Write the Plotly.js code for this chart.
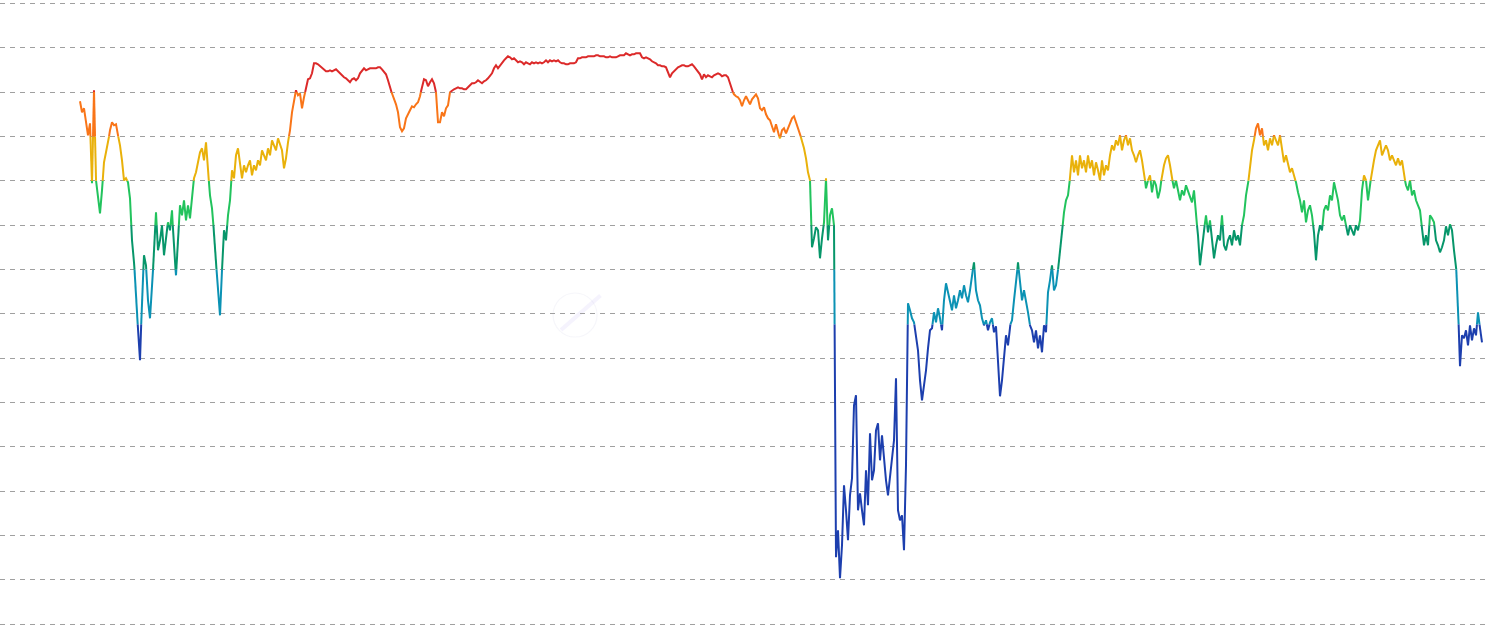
<!DOCTYPE html>
<html>
<head>
<meta charset="utf-8">
<script src="https://cdn.plot.ly/plotly-3.0.1.min.js"></script>
<style>
  html, body { margin: 0; padding: 0; background: #ffffff; }
  #chart { width: 1490px; height: 633px; }
</style>
</head>
<body>
<div id="chart"></div>
<script>
// ---- data (index level; one sample every 2 periods) ----
const levelA = [523,512,516,504,489,501,441,534,444,424,411,434,462,472,481,494,502,499,500,489,479,464,444,446,442,426,384,362,334,294,264];
const levelB = [324,369,359,324,306,334,374,412,374,384,399,369,389,402,394,414,374,349,384,419,409,424,404,419,406,429,446,452,464,472,476,464,482,454,429,416,392,362,334,309,354,394,384,409,424,454,446,469,476,459,446,459,452,459,464,449,459,454,464,459,474,469,464,476,469,484,479,474,486,479,474,456,466,482,494,512,524,534,529,531];
const levelC = [516,527,536,545,546,551,561,561,560,558,557,555,553,553,554,553,554,555,553,551,548,547,546,544,542,545,546,544,546,551,554,556,554,555,556,556,556,556,557,557,555,553,550,544,536,531,526,520,512,497,493,496,506,511,514,518,517,520,522,528,538,545,544,538,542,545,541,532,502,502,512,508,516,519,532,534,535,536,537,536,536,535,535,537,539,541,541,542,544,542,541,543,544,546,549,551,556,559,556,559];
const levelD = [562,564,566,568,567,565,566,564,562,563,562,560,562,561,560,562,561,562,561,562,561,562,564,562,564,563,564,563,564,562];
const levelE = [561,561,560,560,561,561,561,562,566,566,567,567,567,568,568,568,568,569,569,568,568,568,567,567,568,567,567,567,568,569,569,569,571,570,569,570,570,571,571,571,567,566,567,566,565,563,562,561,559,559,558,558,557,551,547,551,553,556,557,558,559,559,558,558,559,560,558,555,553,550,545,550,547,549,548,547,549,550,551,550,548,549,549,547,540,534,530,528,527,524];
const levelF = [518,524,528,524,520,525,528,530,526,516,514,517,510,506,504,499,492,500,491,486,494,496,491,496,502,506,508,502,496,490,484,476,466,452,444,377,386,397,394,366,386,402,446,384,409,416,399];
const levelG = [67,94,46,79,139,114,84,129,146,219,229,114,131,114,99,154,119,191,144,154,194,201,164,189,164,144,129,149,169,184,246,114,104,109,74,159,321];
const levelH = [314,306,302,289,274,244,224,239,254,276,294,296,312,302,316,306,294,324,341,332,324,314,329,316,324,334,326,339,329,322,334,349,362,334,324,319,306,299,304,294,302,306,292,298,262,228,244,266,289,279,299,304,324,339,362,342,324,334,324,312,299,294,282,294,276,289,272,299,292,332,344,359,334,339,354,374];
const levelI = [392,412,424,429,446,469,452,464,449,469,456,464,452,469,456,464,449,462,454,444,464,449,459,454,469,479,474,484,479,489,474,484,489,479,486,474,469,462,469,474,464,452,436,444,449,432,444,439,426,434,449,459,466,469,459,446,436,444,432,424,434,429,439,434,428,422,434,409,389,359];
const levelJ = [379,394,409,392,404,384,366,379,389,384,409,379,374,384,389,379,394,384,389,379,399,409,429,439,459,474,484,496,501,489,496,479,484,474,486,479,489,484,479,489,474,462,469,459,452,456,448,442,432,424,412,424,402,414,419,409,392,364,389,399,394,414,419,414,429,424,442,434,424,409,404,409,399,389,399,394,389,399,394,404,434,449,444,424,439,454,464,474,479,484,469,474,479,474,464,469,464,459,466,459,464,449,439,434,444,429,434,424,419];
const levelK = [414,396,379,389,379,409,406,402,384,379,372,377,384,398,389,400,394,374,360,319,258,289,286,294,279,299,284,296,289,312,296,282];

// band limits (index level) and band colours, lowest band first
const bandLimits = [300, 354.9, 399.2, 443.6, 487.9, 532.3];
const bandColors = ['#1d3fae', '#0b92b4', '#07966a', '#22c35d', '#e9b10a', '#f97518', '#dc2a2a'];

// ---- build ----
const values = [].concat(levelA, levelB, levelC, levelD, levelE, levelF, levelG, levelH, levelI, levelJ, levelK);
const period = values.map((_, i) => i);

function bandOf(v) {
  let b = 0;
  for (const t of bandLimits) if (v > t) b++;
  return b;
}

const bands = bandColors.map(() => ({ x: [], y: [] }));
function pushSeg(b, xa, ya, xb, yb) {
  const tr = bands[b];
  const n = tr.x.length;
  if (n > 0 && tr.x[n - 1] === xa && tr.y[n - 1] === ya) {
    tr.x.push(xb); tr.y.push(yb);
  } else {
    if (n > 0) { tr.x.push(null); tr.y.push(null); }
    tr.x.push(xa, xb); tr.y.push(ya, yb);
  }
}

for (let i = 0; i < values.length - 1; i++) {
  const x0 = period[i], y0 = values[i], x1 = period[i + 1], y1 = values[i + 1];
  const ts = [0];
  for (const t of bandLimits) {
    if ((y0 - t) * (y1 - t) < 0) ts.push((t - y0) / (y1 - y0));
  }
  ts.push(1);
  ts.sort((a, b) => a - b);
  for (let k = 0; k < ts.length - 1; k++) {
    const ta = ts[k], tb = ts[k + 1];
    const xa = x0 + (x1 - x0) * ta, ya = y0 + (y1 - y0) * ta;
    const xb = x0 + (x1 - x0) * tb, yb = y0 + (y1 - y0) * tb;
    const mid = (ya + yb) / 2;
    pushSeg(bandOf(mid), xa, ya, xb, yb);
  }
}

const traces = bands.map((tr, b) => ({
  type: 'scatter',
  mode: 'lines',
  x: tr.x,
  y: tr.y,
  connectgaps: false,
  line: { color: bandColors[b], width: 2 },
  hoverinfo: 'skip'
}));

const layout = {
  width: 1490,
  height: 633,
  margin: { l: 0, r: 0, t: 2, b: 4, pad: 0 },
  paper_bgcolor: '#ffffff',
  plot_bgcolor: '#ffffff',
  showlegend: false,
  xaxis: {
    range: [-40, 705],
    showgrid: false,
    zeroline: false,
    showticklabels: false,
    ticks: '',
    showline: false,
    fixedrange: true
  },
  yaxis: {
    range: [-4.7, 622.3],
    tick0: 0,
    dtick: 44.357,
    showgrid: true,
    gridcolor: '#a0a0a0',
    gridwidth: 1,
    griddash: '5px,5px',
    zeroline: false,
    showticklabels: false,
    ticks: '',
    showline: false,
    fixedrange: true
  },
  // faint watermark emblem in the middle of the plot
  shapes: [
    { type: 'circle', xref: 'paper', yref: 'paper', layer: 'below',
      x0: 0.3712, x1: 0.4007, y0: 0.4657, y1: 0.5359,
      line: { color: 'rgba(215,215,230,0.22)', width: 1.2 } },
    { type: 'line', xref: 'paper', yref: 'paper', layer: 'below',
      x0: 0.3765, y0: 0.4769, x1: 0.4030, y1: 0.5320,
      line: { color: 'rgba(205,195,245,0.2)', width: 4 } }
  ]
};

Plotly.newPlot('chart', traces, layout, { displayModeBar: false, staticPlot: true });
</script>
</body>
</html>
